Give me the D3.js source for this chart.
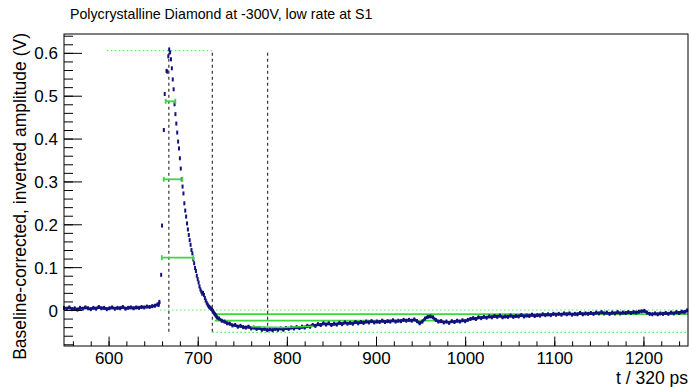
<!DOCTYPE html>
<html>
<head>
<meta charset="utf-8">
<script src="https://cdn.jsdelivr.net/npm/d3@7"></script>
<style>
  body { margin: 0; background: #fff; }
  text { font-family: "Liberation Sans", Arial, Helvetica, sans-serif; }
</style>
</head>
<body>
<div id="chart"></div>
<script>
// waveform before the pulse, sampled every 3 time bins from 550
const preT = d3.range(550, 656, 3);
const preV = [0.005, 0.003, 0.006, 0.002, 0.004, 0.001, 0.005, 0.003, 0.006, 0.004,
    0.002, 0.005, 0.003, 0.007, 0.004, 0.005, 0.002, 0.004, 0.006, 0.003,
    0.005, 0.004, 0.007, 0.003, 0.005, 0.006, 0.004, 0.006, 0.005, 0.007,
    0.006, 0.008, 0.007, 0.009, 0.010, 0.013];

// pulse, one point per time bin
const peakT = [656, 657, 659, 660, 662, 663, 665, 666, 667, 668, 669, 670,
    671, 672, 673, 674, 675, 676, 677, 678, 679, 680,
    681, 682, 683, 684, 685, 686, 687, 688, 689, 690,
    691, 692, 693, 694, 695, 696, 697, 698, 699, 700,
    701, 702, 703, 704, 705, 706, 707, 708, 709, 710,
    711, 712, 713, 714, 715, 716, 717, 718, 719, 720, 721, 722];
const peakV = [0.012, 0.019, 0.082, 0.197, 0.420, 0.504, 0.558, 0.556, 0.592, 0.608, 0.601, 0.585,
    0.564, 0.538, 0.515, 0.480, 0.457, 0.435, 0.414, 0.393, 0.377, 0.354,
    0.330, 0.305, 0.288, 0.272, 0.249, 0.232, 0.218, 0.202, 0.188, 0.175,
    0.163, 0.152, 0.140, 0.132, 0.118, 0.109, 0.098, 0.091, 0.080, 0.072,
    0.064, 0.055, 0.048, 0.043, 0.038, 0.040, 0.035, 0.028, 0.022, 0.017,
    0.013, 0.010, 0.007, 0.005, 0.003, 0.001, -0.002, -0.006, -0.009, -0.012, -0.015, -0.018];

// undershoot and recovery, sampled every 3 time bins from 724
const postT = d3.range(724, 1250, 3);
const postV = [-0.020, -0.025, -0.027, -0.031, -0.032, -0.036, -0.035, -0.039, -0.037, -0.040,
    -0.041, -0.039, -0.043, -0.041, -0.044, -0.042, -0.046, -0.044, -0.047, -0.045,
    -0.047, -0.044, -0.046, -0.043, -0.046, -0.042, -0.044, -0.041, -0.043, -0.040,
    -0.042, -0.039, -0.041, -0.037, -0.039, -0.035, -0.037, -0.033, -0.035, -0.031,
    -0.034, -0.031, -0.035, -0.032, -0.034, -0.030, -0.033, -0.029, -0.032, -0.030,
    -0.032, -0.028, -0.031, -0.028, -0.030, -0.027, -0.029, -0.026, -0.029, -0.027,
    -0.028, -0.025, -0.028, -0.026, -0.027, -0.024, -0.027, -0.025, -0.026, -0.023,
    -0.025, -0.023, -0.025, -0.022, -0.026, -0.031, -0.027, -0.020, -0.016, -0.015,
    -0.017, -0.023, -0.027, -0.026, -0.029, -0.027, -0.030, -0.026, -0.028, -0.025,
    -0.027, -0.024, -0.026, -0.023, -0.021, -0.019, -0.021, -0.017, -0.019, -0.016,
    -0.018, -0.015, -0.017, -0.014, -0.016, -0.013, -0.017, -0.015, -0.016, -0.013,
    -0.016, -0.014, -0.015, -0.012, -0.015, -0.013, -0.014, -0.011, -0.014, -0.012,
    -0.013, -0.010, -0.012, -0.010, -0.012, -0.009, -0.011, -0.009, -0.011, -0.008,
    -0.010, -0.008, -0.011, -0.009, -0.010, -0.007, -0.010, -0.008, -0.009, -0.007,
    -0.009, -0.006, -0.008, -0.005, -0.008, -0.006, -0.009, -0.006, -0.008, -0.005,
    -0.008, -0.006, -0.007, -0.005, -0.007, -0.005, -0.006, -0.004, -0.003, -0.002,
    -0.006, -0.009, -0.010, -0.008, -0.010, -0.008, -0.009, -0.007, -0.009, -0.006,
    -0.008, -0.005, -0.007, -0.004, -0.005, -0.001];

// analysis overlays
const levelV = [0.487, 0.305, 0.122];      // 80/50/20 % crossings
const levelT0 = [664.1, 661.9, 659.7];
const levelT1 = [674.9, 682.8, 695.1];
const markT = [667.6, 716.4, 778.4];        // dashed time markers
const markV = [0.600, -0.055];
const dottedV = [0.605, 0, -0.052];
const dottedT0 = [598, 657.7, 716.5];
const dottedT1 = [716, 1250, 1250];
const solidV = [-0.0098, -0.025];
const solidT0 = [719, 719];
const solidT1 = [1250, 975];
const fitT = [760, 795, 830];
const fitV = [-0.039, -0.041, -0.038];

const xMajor = d3.range(600, 1201, 100);
const xMinor = d3.range(560, 1250, 20);
const yMajor = [0, 0.1, 0.2, 0.3, 0.4, 0.5, 0.6];
const yMinor = d3.range(-8, 65, 2).map(d => d / 100);

const svgWidth = 689;
const svgHeight = 387;
const margin = { top: 34, right: 1, bottom: 41, left: 64 };
const width = svgWidth - margin.left - margin.right;
const height = svgHeight - margin.top - margin.bottom;

const root = d3.select('#chart').append('svg')
    .attr('width', svgWidth)
    .attr('height', svgHeight);

const svg = root.append('g')
    .attr('transform', 'translate(' + margin.left + ',' + margin.top + ')');

const x = d3.scaleLinear().domain([550, 1250]).range([0, width]);
const y = d3.scaleLinear().domain([-0.084, 0.644]).range([height, 0]);

const navy = '#12127e';
const green = '#3fd63f';
const lightGreen = '#5fe65f';

// reference lines under the data
dottedV.forEach((v, i) => {
    svg.append('line')
        .attr('x1', x(dottedT0[i])).attr('x2', x(dottedT1[i]))
        .attr('y1', y(v)).attr('y2', y(v))
        .attr('stroke', lightGreen).attr('stroke-width', 1.2)
        .attr('stroke-dasharray', '1.5,2.5');
});
solidV.forEach((v, i) => {
    svg.append('line')
        .attr('x1', x(solidT0[i])).attr('x2', x(solidT1[i]))
        .attr('y1', y(v)).attr('y2', y(v))
        .attr('stroke', green).attr('stroke-width', 1.8);
});
markT.forEach(t => {
    svg.append('line')
        .attr('x1', x(t)).attr('x2', x(t))
        .attr('y1', y(markV[0])).attr('y2', y(markV[1]))
        .attr('stroke', '#333').attr('stroke-width', 1.2)
        .attr('stroke-dasharray', '3,3');
});

// waveform
const pre = preT.map((t, i) => [t, preV[i]]);
const peak = peakT.map((t, i) => [t, peakV[i]]);
const post = postT.map((t, i) => [t, postV[i]]);
const all = pre.concat(peak, post);

const line = d3.line().x(d => x(d[0])).y(d => y(d[1]));
const leftBand = pre.concat(peak.filter(d => d[0] <= 657));
const rightBand = peak.filter(d => d[0] >= 712).concat(post);
[leftBand, rightBand].forEach(seg => {
    svg.append('path')
        .datum(seg)
        .attr('fill', 'none')
        .attr('stroke', navy)
        .attr('stroke-width', 2.6)
        .attr('d', line);
});

svg.selectAll('.pt')
    .data(all)
    .enter().append('rect')
    .attr('class', 'pt')
    .attr('x', d => x(d[0]) - 1)
    .attr('y', d => y(d[1]) - 2)
    .attr('width', 2)
    .attr('height', 4)
    .attr('fill', navy);

// fit segment at the minimum
svg.append('path')
    .datum(fitT.map((t, i) => [t, fitV[i]]))
    .attr('fill', 'none')
    .attr('stroke', green)
    .attr('stroke-width', 1.5)
    .attr('d', line);

// horizontal crossing bars with caps
levelV.forEach((v, i) => {
    const g = svg.append('g').attr('stroke', green).attr('stroke-width', 1.8);
    g.append('line')
        .attr('x1', x(levelT0[i])).attr('x2', x(levelT1[i]))
        .attr('y1', y(v)).attr('y2', y(v));
    [levelT0[i], levelT1[i]].forEach(t => {
        g.append('line')
            .attr('x1', x(t)).attr('x2', x(t))
            .attr('y1', y(v) - 2.5).attr('y2', y(v) + 2.5);
    });
});

// axes, ROOT style ticks inside the frame
const yMinorAxis = svg.append('g')
    .call(d3.axisLeft(y).tickValues(yMinor).tickSize(-9).tickFormat(''));
const yMajorAxis = svg.append('g')
    .call(d3.axisLeft(y).tickValues(yMajor).tickSize(-18).tickPadding(6)
        .tickFormat(d => d === 0 ? '0' : d3.format('.1f')(d)));
const xMinorAxis = svg.append('g')
    .attr('transform', 'translate(0,' + height + ')')
    .call(d3.axisBottom(x).tickValues(xMinor).tickSize(-4.7).tickFormat(''));
const xMajorAxis = svg.append('g')
    .attr('transform', 'translate(0,' + height + ')')
    .call(d3.axisBottom(x).tickValues(xMajor).tickSize(-9.4).tickPadding(6)
        .tickFormat(d3.format('d')));

[yMinorAxis, yMajorAxis, xMinorAxis, xMajorAxis].forEach(a => {
    a.select('.domain').remove();
    a.selectAll('line').attr('stroke', '#000');
    a.selectAll('text').style('font-size', '17px').attr('fill', '#000');
});
yMajorAxis.selectAll('text').attr('dy', '0.36em');

svg.append('rect')
    .attr('x', 0).attr('y', 0)
    .attr('width', width).attr('height', height)
    .attr('fill', 'none')
    .attr('stroke', '#000')
    .attr('stroke-width', 1);

// titles
root.append('text')
    .attr('x', 70)
    .attr('y', 19)
    .style('font-size', '14.2px')
    .text('Polycrystalline Diamond at -300V, low rate at S1');

root.append('text')
    .attr('x', 688)
    .attr('y', 384)
    .attr('text-anchor', 'end')
    .style('font-size', '17.5px')
    .text('t / 320 ps');

root.append('text')
    .attr('transform', 'translate(26,33) rotate(-90)')
    .attr('text-anchor', 'end')
    .style('font-size', '17.5px')
    .text('Baseline-corrected, inverted amplitude (V)');
</script>
</body>
</html>
